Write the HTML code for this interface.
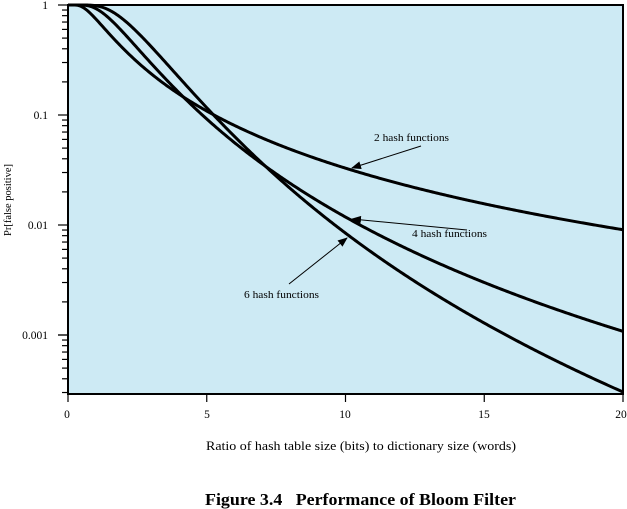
<!DOCTYPE html>
<html><head><meta charset="utf-8"><style>
html,body{margin:0;padding:0;background:#fff;width:627px;height:509px;overflow:hidden}
svg{display:block}
text{font-family:"Liberation Serif",serif;fill:#000}
</style></head><body>
<svg id="s" width="627" height="509" viewBox="0 0 627 509" xmlns="http://www.w3.org/2000/svg">
<defs><marker id="ah" markerWidth="10" markerHeight="8" refX="9" refY="4" orient="auto" markerUnits="userSpaceOnUse"><path d="M0,0 L10,4 L0,8 z" fill="#000"/></marker></defs>
<rect x="68" y="5" width="555" height="389" fill="#cdeaf4"/>
<g id="curves" fill="none" stroke="#000" stroke-width="3"></g>
<g id="ticks" stroke="#000" stroke-width="1.2"></g>
<path d="M68,5 L68,394 L623,394 L623,5 Z" fill="none" stroke="#000" stroke-width="2"/>
<g font-size="11.5" text-anchor="end">
<text x="48" y="9">1</text><text x="48" y="119">0.1</text><text x="48" y="229">0.01</text><text x="48" y="339">0.001</text>
</g>
<g font-size="11.5" text-anchor="middle">
<text x="67" y="418">0</text><text x="207" y="418">5</text><text x="345" y="418">10</text><text x="484" y="418">15</text><text x="621" y="418">20</text>
</g>
<text x="11" y="200" font-size="10.5" text-anchor="middle" transform="rotate(-90 11 200)">Pr[false positive]</text>
<text x="206" y="450" font-size="12.5" textLength="310" lengthAdjust="spacingAndGlyphs">Ratio of hash table size (bits) to dictionary size (words)</text>
<text x="205" y="505" font-size="17" font-weight="bold" textLength="311" lengthAdjust="spacingAndGlyphs">Figure 3.4&#160;&#160; Performance of Bloom Filter</text>
<g font-size="10.5">
<text x="374" y="141" textLength="75" lengthAdjust="spacingAndGlyphs">2 hash functions</text>
<text x="412" y="237" textLength="75" lengthAdjust="spacingAndGlyphs">4 hash functions</text>
<text x="244" y="298" textLength="75" lengthAdjust="spacingAndGlyphs">6 hash functions</text>
</g>
<g stroke="#000" stroke-width="1" marker-end="url(#ah)">
<line x1="421" y1="146" x2="352" y2="168"/>
<line x1="467" y1="230" x2="352" y2="219"/>
<line x1="289" y1="284" x2="347" y2="238"/>
</g>
</svg>
<script>
var ns="http://www.w3.org/2000/svg";
function X(r){return 68+r*27.75}
function Y(p){return 5-110*Math.log10(p)}
var g=document.getElementById("curves");
[2,4,6].forEach(function(k){
 var d="M68,5";
 for(var i=1;i<=400;i++){var r=i*0.05;var p=Math.pow(1-Math.exp(-k/r),k);d+=" L"+X(r).toFixed(2)+","+Math.min(Y(p),394).toFixed(2);}
 var e=document.createElementNS(ns,"path");e.setAttribute("d",d);g.appendChild(e);
});
var t=document.getElementById("ticks");
function ln(a,b,c,d){var e=document.createElementNS(ns,"line");e.setAttribute("x1",a);e.setAttribute("y1",b);e.setAttribute("x2",c);e.setAttribute("y2",d);t.appendChild(e);}
for(var dec=0;dec<4;dec++){
 for(var m=1;m<=9;m++){
  var y=5+110*(dec+1)-110*Math.log10(m);
  if(m==1){y=5+110*dec;}
  if(y>394.5)continue;
  ln(m==1?58:62,y,68,y);}
}
ln(58,335,68,335);
for(var i=0;i<=4;i++){var x=68+i*138.75;ln(x,394,x,402);}
</script>
</body></html>
